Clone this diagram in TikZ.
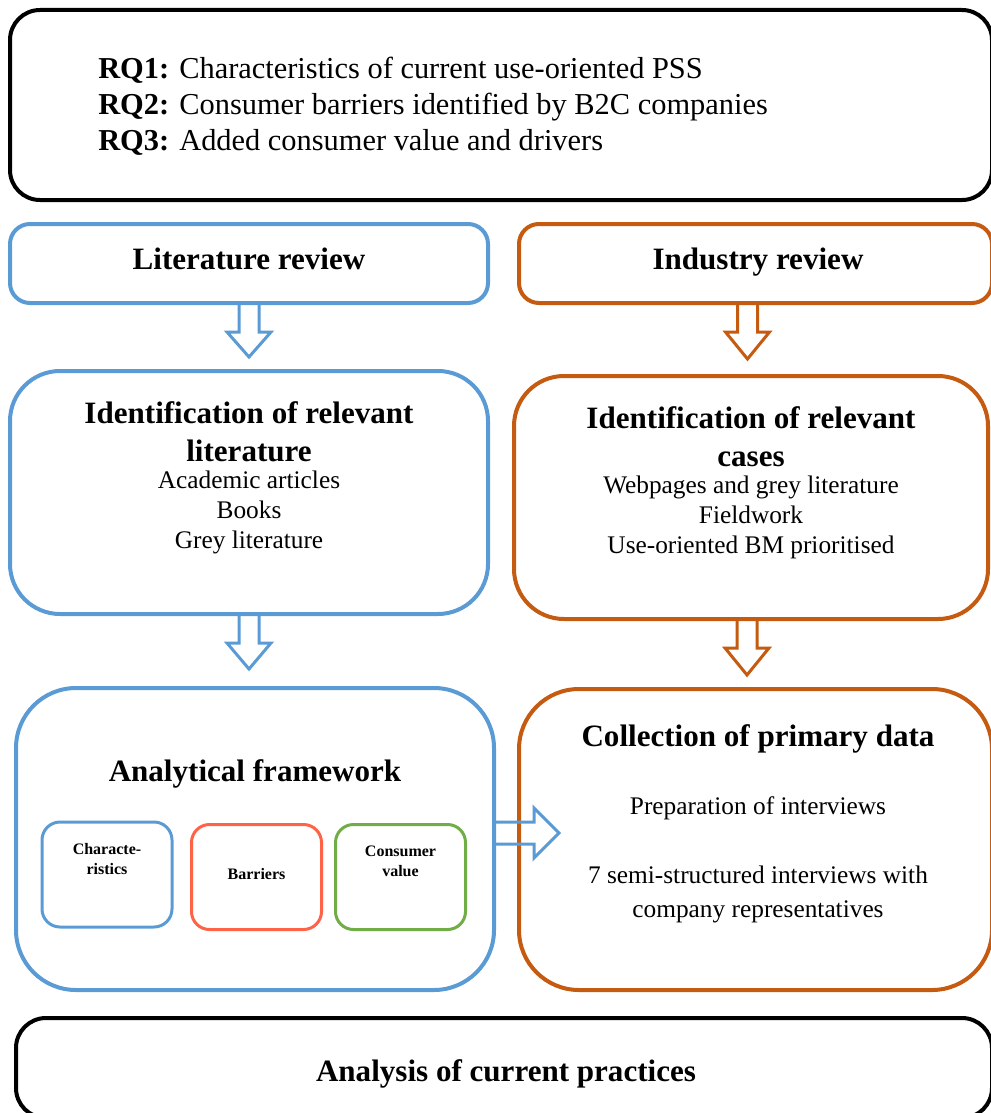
\documentclass[tikz,border=0pt]{standalone}
\usepackage{fontspec}
\setmainfont{Liberation Serif}
\usetikzlibrary{calc}
\definecolor{cblue}{HTML}{5B9BD5}
\definecolor{corange}{HTML}{C55A11}
\definecolor{cred}{HTML}{FF6347}
\definecolor{cgreen}{HTML}{70AD47}
\begin{document}
\begin{tikzpicture}[x=0.75pt,y=-0.75pt,
  box/.style={draw, rectangle, inner sep=0pt, line width=3pt},
  smallbox/.style={draw, rectangle, inner sep=0pt, line width=2.25pt, rounded corners=13.5pt, minimum width=97.5pt, minimum height=78.75pt},
  blockarrow/.style={line width=2.25pt, line join=miter},
  hd/.style={font=\bfseries\fontsize{23.3}{28.5}\selectfont, align=center, inner sep=0pt},
  bd/.style={font=\fontsize{19}{22.5}\selectfont, align=center, inner sep=0pt},
  sm/.style={font=\bfseries\fontsize{12}{15}\selectfont, align=center, inner sep=0pt}]
\useasboundingbox (0,0) rectangle (991,1113);

% boxes
\node[box, black, rounded corners=22.5pt, minimum width=736.5pt, minimum height=142.5pt] (rq) at (501,105) {};
\node[box, cblue, rounded corners=15pt, minimum width=358.5pt, minimum height=59.25pt] (lit) at (249,263.5) {};
\node[box, corange, rounded corners=15pt, minimum width=354.75pt, minimum height=59.25pt] (ind) at (755.5,263.5) {};
\node[box, cblue, rounded corners=37.5pt, minimum width=358.5pt, minimum height=182.25pt] (idl) at (249,492.5) {};
\node[box, corange, rounded corners=37.5pt, minimum width=355.5pt, minimum height=182.25pt] (idr) at (751,497.5) {};
\node[box, cblue, rounded corners=45pt, minimum width=358.5pt, minimum height=226.5pt] (af) at (255,839) {};
\node[box, corange, rounded corners=45pt, minimum width=354.75pt, minimum height=225.75pt] (col) at (755.5,839.5) {};
\node[smallbox, cblue] (ch) at (107,874.5) {};
\node[smallbox, cred] (ba) at (256.5,877) {};
\node[smallbox, cgreen] (cv) at (400.5,877) {};
\node[box, black, rounded corners=22.5pt, minimum width=732pt, minimum height=75pt] (an) at (504,1068) {};

% texts
\node[anchor=west, align=left, inner sep=0pt, font=\fontsize{22.8}{27}\selectfont] (rqt) at (98,106)
  {\textbf{RQ1:} Characteristics of current use-oriented PSS\\
   \textbf{RQ2:} Consumer barriers identified by B2C companies\\
   \textbf{RQ3:} Added consumer value and drivers};
\node[hd] (litt) at (249,259) {Literature review};
\node[hd] (indt) at (758,262) {Industry review};
\node[hd] (idlt) at (249,432) {Identification of relevant\\literature};
\node[bd] (idlb) at (249,512) {Academic articles\\Books\\Grey literature};
\node[hd] (idrt) at (751,436.5) {Identification of relevant\\cases};
\node[bd] (idrb) at (751,517.5) {Webpages and grey literature\\Fieldwork\\Use-oriented BM prioritised};
\node[hd] (aft) at (255,774) {Analytical framework};
\node[sm] (cht) at (107,859) {Characte-\\ristics};
\node[sm] (bat) at (256.5,874) {Barriers};
\node[sm] (cvt) at (400.5,861) {Consumer\\value};
\node[hd] (colt) at (758,739) {Collection of primary data};
\node[bd] (colb1) at (758,808) {Preparation of interviews};
\node[bd, font=\fontsize{19}{26}\selectfont] (colb2) at (758,894.5) {7 semi-structured interviews with\\company representatives};
\node[hd] (ant) at (506,1074) {Analysis of current practices};

% block arrows
\draw[blockarrow, cblue] ($(lit.south)+(-10,0)$) -- ++(0,27) -- ++(-12,0) -- ($(lit.south)+(0,52)$) -- ($(lit.south)+(22,27)$) -- ++(-12,0) -- ($(lit.south)+(10,0)$);
\draw[blockarrow, corange] ($(ind.south)+(-18,0)$) -- ++(0,27) -- ++(-12,0) -- ($(ind.south)+(-8,54)$) -- ($(ind.south)+(14,27)$) -- ++(-12,0) -- ($(ind.south)+(2,0)$);
\draw[blockarrow, cblue] ($(idl.south)+(-10,0)$) -- ++(0,27) -- ++(-12,0) -- ($(idl.south)+(0,53)$) -- ($(idl.south)+(22,27)$) -- ++(-12,0) -- ($(idl.south)+(10,0)$);
\draw[blockarrow, corange] ($(idr.south)+(-14,0)$) -- ++(0,27) -- ++(-12,0) -- ($(idr.south)+(-4,54)$) -- ($(idr.south)+(18,27)$) -- ++(-12,0) -- ($(idr.south)+(6,0)$);
\draw[blockarrow, cblue] ($(af.east)+(0,-17)$) -- ++(38,0) -- ++(0,-14) -- ($(af.east)+(63,-6)$) -- ($(af.east)+(38,19)$) -- ++(0,-14) -- ($(af.east)+(0,5)$);
\end{tikzpicture}
\end{document}
